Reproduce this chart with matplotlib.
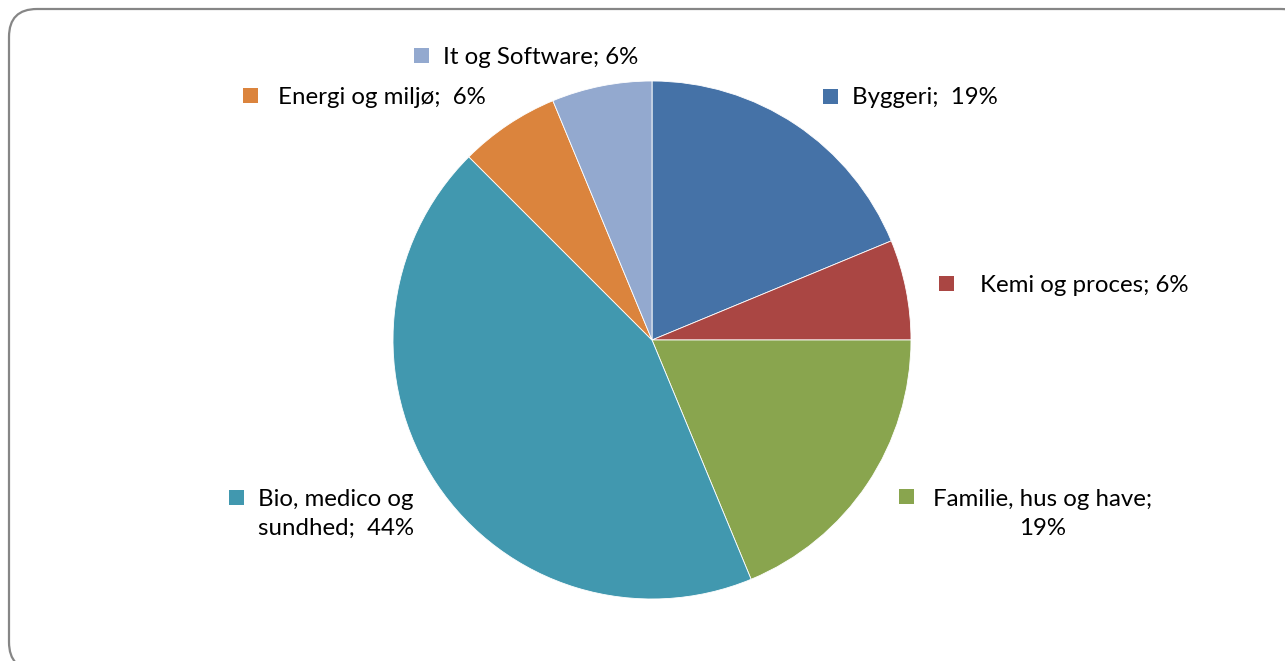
import matplotlib
matplotlib.use("Agg")
import matplotlib.pyplot as plt
from matplotlib.patches import FancyBboxPatch, Rectangle

categories = ["Byggeri", "Kemi og proces", "Familie, hus og have",
              "Bio, medico og sundhed", "Energi og miljø", "It og Software"]
values = [3, 1, 3, 7, 1, 1]
labels = ["Byggeri;  19%", "Kemi og proces; 6%", "Familie, hus og have;\n19%",
          "Bio, medico og\nsundhed;  44%", "Energi og miljø;  6%", "It og Software; 6%"]
colors = ["#4572A7", "#AA4643", "#89A54E", "#4198AF", "#DB843D", "#93A9CF"]

W, H = 1285, 661
fig = plt.figure(figsize=(W / 100, H / 100), dpi=100)
ax = fig.add_axes([0, 0, 1, 1])
ax.set_xlim(0, W)
ax.set_ylim(0, H)
ax.axis("off")

def Y(y):
    return H - y

# border
border = FancyBboxPatch((9, Y(670)), 1300, 661, boxstyle="round,pad=0,rounding_size=28",
                        fc="white", ec="#868686", lw=1.6, zorder=0)
ax.add_patch(border)

ax.pie(values, colors=colors, startangle=90, counterclock=False,
       center=(652, Y(340)), radius=259,
       wedgeprops=dict(edgecolor="white", linewidth=0.6), frame=True)
ax.set_xlim(0, W)
ax.set_ylim(0, H)
ax.set_aspect("auto")
ax.axis("off")

font = "Lato"
fs = 17.3
# (marker center x, marker center y, text x, text y, ha, multialign)
label_pos = [
    (830, 96, 852, 98, "left", "left"),
    (946, 283, 980, 286, "left", "left"),
    (906, 496, 933, 514, "left", "center"),
    (236, 497, 258, 514, "left", "left"),
    (250, 95, 278, 98, "left", "left"),
    (421, 55, 443, 58, "left", "left"),
]
for (mx, my, tx, ty, ha, ma), lab, c in zip(label_pos, labels, colors):
    ax.add_patch(Rectangle((mx - 7.5, Y(my) - 7.5), 15, 15, fc=c, ec="none"))
    ax.text(tx, Y(ty), lab, ha=ha, va="center", multialignment=ma,
            fontsize=fs, family=font, color="black", linespacing=1.42)

fig.savefig("out.png", dpi=100)
